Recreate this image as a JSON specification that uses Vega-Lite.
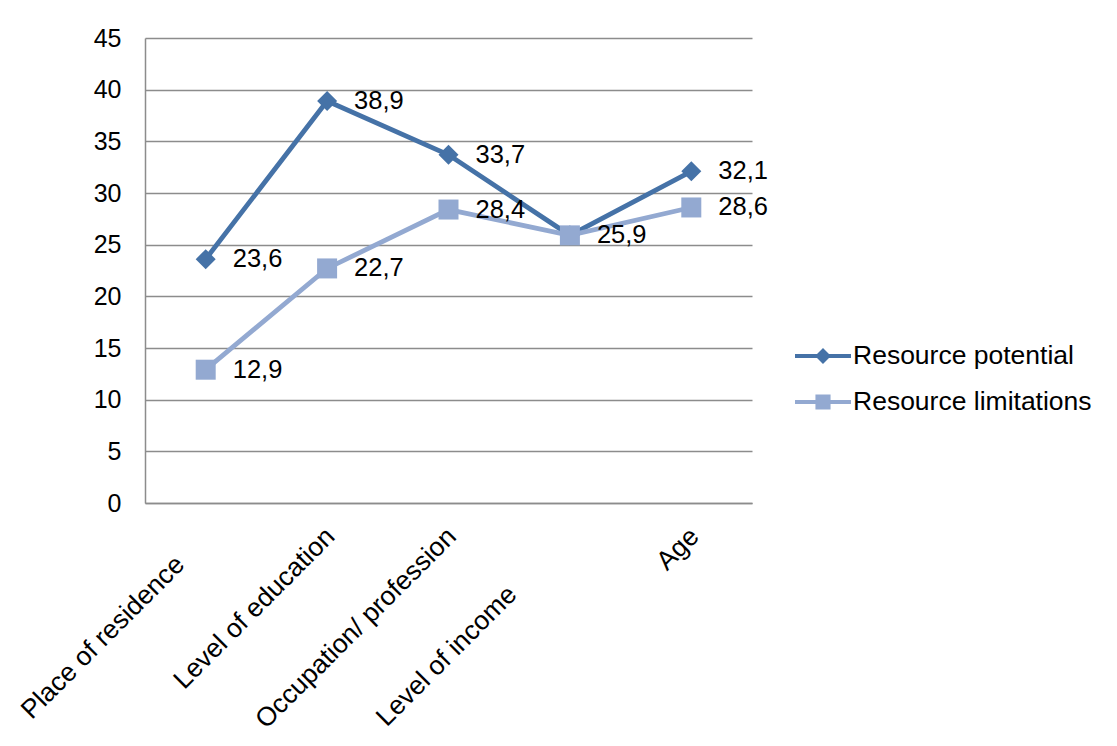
{
  "$schema": "https://vega.github.io/schema/vega-lite/v6.json",
  "width": 607,
  "height": 465,
  "autosize": {"type": "none"},
  "padding": {"left": 145, "top": 38, "right": 365, "bottom": 243},
  "background": "white",
  "config": {
    "view": {"stroke": null},
    "font": "Liberation Sans",
    "locale": {"number": {"decimal": ",", "thousands": ".", "grouping": [3], "currency": ["", ""]}},
    "axis": {"labelFont": "Liberation Sans", "labelFontSize": 25, "labelColor": "black", "title": null, "ticks": false, "domainColor": "#8c8c8c", "domainWidth": 1.5, "gridColor": "#8c8c8c", "gridWidth": 1.5, "labelLimit": 0},
    "legend": {"symbolSize": 784}
  },
  "data": {
    "values": [
      {"category": "Place of residence", "series": "Resource potential", "value": 23.6},
      {"category": "Level of education", "series": "Resource potential", "value": 38.9},
      {"category": "Occupation/ profession", "series": "Resource potential", "value": 33.7},
      {"category": "Level of income", "series": "Resource potential", "value": 25.9},
      {"category": "Age", "series": "Resource potential", "value": 32.1},
      {"category": "Place of residence", "series": "Resource limitations", "value": 12.9},
      {"category": "Level of education", "series": "Resource limitations", "value": 22.7},
      {"category": "Occupation/ profession", "series": "Resource limitations", "value": 28.4},
      {"category": "Level of income", "series": "Resource limitations", "value": 25.9},
      {"category": "Age", "series": "Resource limitations", "value": 28.6}
    ]
  },
  "encoding": {
    "x": {
      "field": "category",
      "type": "nominal",
      "sort": ["Place of residence", "Level of education", "Occupation/ profession", "Level of income", "Age"],
      "scale": {"type": "point", "padding": 0.5},
      "axis": {
        "grid": false,
        "labelAngle": -45,
        "labelAlign": "right",
        "labelBaseline": "middle",
        "labelLimit": 0,
        "labelFontSize": 26.5,
        "labelPadding": {"condition": [{"test": "datum.value === 'Place of residence'", "value": 57}, {"test": "datum.value === 'Level of income'", "value": 87}], "value": 29},
        "labelOffset": {"condition": [{"test": "datum.value === 'Place of residence'", "value": -26}, {"test": "datum.value === 'Level of income'", "value": -58}], "value": 3}
      }
    },
    "y": {
      "field": "value",
      "type": "quantitative",
      "scale": {"domain": [0, 45]},
      "axis": {"values": [0, 5, 10, 15, 20, 25, 30, 35, 40, 45], "labelPadding": 24, "format": "d"}
    }
  },
  "layer": [
    {
      "mark": {"type": "point", "filled": true, "size": 1, "opacity": 1},
      "encoding": {
        "shape": {
          "field": "series",
          "type": "nominal",
          "scale": {"domain": ["Resource potential", "Resource limitations"], "range": ["M-2,-0.14H2V0.14H-2Z M0,-0.57L0.57,0L0,0.57L-0.57,0Z", "M-2,-0.14H2V0.14H-2Z M-0.54,-0.54H0.54V0.54H-0.54Z"]},
          "legend": {
            "title": null,
            "orient": "none",
            "legendX": 664,
            "legendY": 304,
            "padding": 0,
            "labelFont": "Liberation Sans",
            "labelFontSize": 26.5,
            "labelColor": "black",
            "labelOffset": 16,
            "labelLimit": 0,
            "symbolSize": 784,
            "symbolOpacity": 1,
            "symbolStrokeWidth": 0,
            "rowPadding": 18
          }
        },
        "fill": {
          "field": "series",
          "type": "nominal",
          "scale": {"domain": ["Resource potential", "Resource limitations"], "range": ["#4572a7", "#93a9d1"]},
          "legend": {
            "title": null,
            "orient": "none",
            "legendX": 664,
            "legendY": 304,
            "padding": 0,
            "labelFont": "Liberation Sans",
            "labelFontSize": 26.5,
            "labelColor": "black",
            "labelOffset": 16,
            "labelLimit": 0,
            "symbolSize": 784,
            "symbolOpacity": 1,
            "symbolStrokeWidth": 0,
            "rowPadding": 18
          }
        }
      }
    },
    {
      "mark": {"type": "line", "strokeWidth": 4.8},
      "encoding": {
        "color": {"field": "series", "type": "nominal", "scale": {"domain": ["Resource potential", "Resource limitations"], "range": ["#4572a7", "#93a9d1"]}, "legend": null},
        "order": {"field": "series", "sort": "descending"}
      }
    },
    {
      "transform": [{"filter": "datum.series === 'Resource potential'"}],
      "mark": {"type": "point", "shape": "diamond", "filled": true, "opacity": 1, "size": 400},
      "encoding": {
        "color": {"field": "series", "type": "nominal", "scale": {"domain": ["Resource potential", "Resource limitations"], "range": ["#4572a7", "#93a9d1"]}, "legend": null}
      }
    },
    {
      "transform": [{"filter": "datum.series === 'Resource limitations'"}],
      "mark": {"type": "point", "shape": "square", "filled": true, "opacity": 1, "size": 400},
      "encoding": {
        "color": {"field": "series", "type": "nominal", "scale": {"domain": ["Resource potential", "Resource limitations"], "range": ["#4572a7", "#93a9d1"]}, "legend": null}
      }
    },
    {
      "transform": [{"filter": "!(datum.series === 'Resource limitations' && datum.category === 'Level of income')"}],
      "mark": {"type": "text", "align": "left", "baseline": "middle", "dx": 27, "fontSize": 25.5, "font": "Liberation Sans", "color": "black"},
      "encoding": {"text": {"field": "value", "type": "quantitative", "format": ".1f"}}
    }
  ]
}
